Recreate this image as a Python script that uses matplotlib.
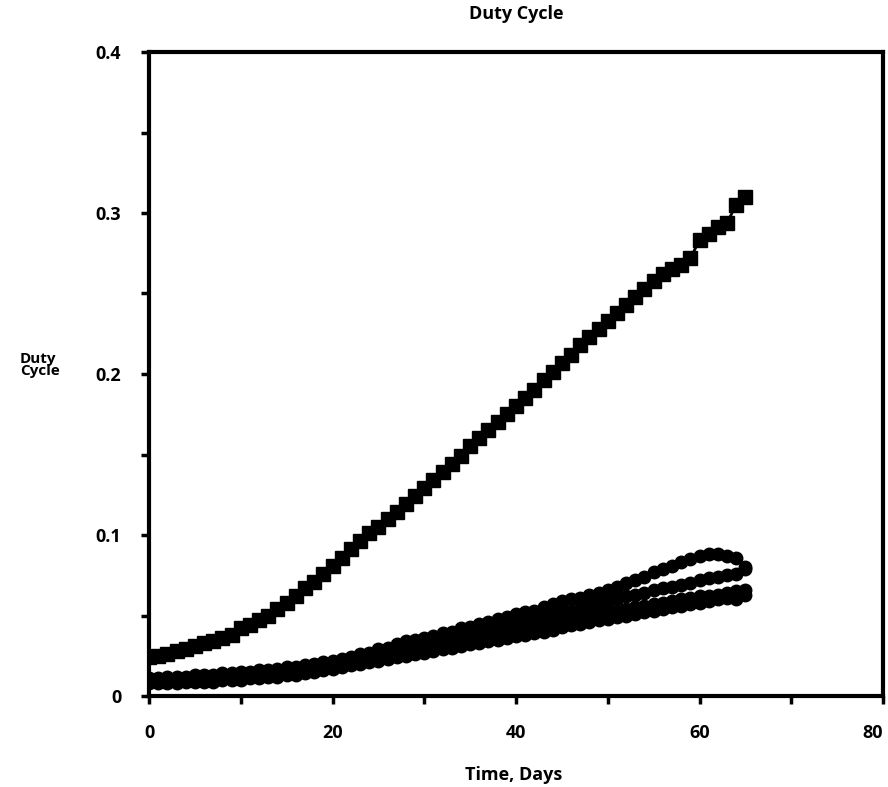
import matplotlib
matplotlib.use("Agg")
import matplotlib.pyplot as plt
from matplotlib.ticker import MultipleLocator

plt.rcParams['font.family'] = ['Open Sans', 'DejaVu Sans']

days = list(range(0, 66))

duty_top = [0.024,0.025,0.026,0.028,0.029,0.031,0.033,0.034,0.036,0.038,
            0.042,0.044,0.047,0.050,0.054,0.058,0.062,0.067,0.071,0.076,
            0.081,0.086,0.091,0.096,0.101,0.105,0.110,0.114,0.119,0.124,
            0.129,0.134,0.139,0.144,0.149,0.155,0.160,0.165,0.170,0.175,
            0.180,0.185,0.190,0.196,0.201,0.207,0.212,0.218,0.223,0.228,
            0.233,0.238,0.243,0.248,0.253,0.258,0.262,0.265,0.268,0.272,
            0.283,0.287,0.291,0.294,0.305,0.310]

duty_a = [0.011,0.011,0.012,0.012,0.012,0.013,0.013,0.013,0.014,0.014,
          0.015,0.015,0.016,0.016,0.017,0.018,0.018,0.019,0.020,0.021,
          0.022,0.023,0.024,0.026,0.027,0.029,0.030,0.032,0.034,0.035,
          0.036,0.037,0.039,0.040,0.042,0.043,0.045,0.046,0.048,0.049,
          0.051,0.052,0.053,0.055,0.057,0.059,0.060,0.061,0.063,0.064,
          0.066,0.068,0.070,0.072,0.074,0.077,0.079,0.081,0.083,0.085,
          0.087,0.088,0.088,0.087,0.086,0.080]

duty_b = [0.010,0.010,0.011,0.011,0.011,0.012,0.012,0.012,0.013,0.013,
          0.013,0.014,0.014,0.015,0.016,0.016,0.017,0.018,0.019,0.020,
          0.021,0.022,0.023,0.024,0.025,0.027,0.028,0.030,0.031,0.032,
          0.033,0.034,0.035,0.037,0.038,0.039,0.040,0.042,0.043,0.044,
          0.045,0.046,0.047,0.049,0.050,0.052,0.053,0.054,0.056,0.057,
          0.059,0.060,0.062,0.063,0.064,0.066,0.067,0.068,0.069,0.070,
          0.072,0.073,0.074,0.075,0.076,0.079]

duty_c = [0.009,0.009,0.009,0.010,0.010,0.010,0.011,0.011,0.011,0.012,
          0.012,0.013,0.013,0.014,0.014,0.015,0.016,0.016,0.017,0.018,
          0.019,0.020,0.021,0.022,0.023,0.024,0.025,0.026,0.027,0.029,
          0.030,0.031,0.032,0.033,0.034,0.035,0.036,0.037,0.038,0.040,
          0.041,0.042,0.043,0.044,0.045,0.047,0.048,0.049,0.050,0.051,
          0.052,0.053,0.054,0.055,0.056,0.057,0.058,0.059,0.060,0.061,
          0.062,0.062,0.063,0.064,0.065,0.066]

duty_d = [0.008,0.008,0.008,0.008,0.009,0.009,0.009,0.009,0.010,0.010,
          0.010,0.011,0.011,0.012,0.012,0.013,0.013,0.014,0.015,0.016,
          0.017,0.018,0.019,0.020,0.021,0.022,0.023,0.024,0.025,0.026,
          0.027,0.028,0.029,0.030,0.031,0.032,0.033,0.034,0.035,0.036,
          0.037,0.038,0.039,0.040,0.041,0.043,0.044,0.045,0.046,0.047,
          0.048,0.049,0.050,0.051,0.052,0.053,0.054,0.055,0.056,0.057,
          0.058,0.059,0.060,0.061,0.060,0.063]

x_ticks = [0, 20, 40, 60, 80]
x_labels = ["0", "20", "40", "60", "80"]
y_ticks = [0, 0.1, 0.2, 0.3, 0.4]
y_labels = ["0", "0.1", "0.2", "0.3", "0.4"]

fig = plt.figure(figsize=(8.88, 7.87), dpi=100)
ax = fig.add_axes([149/888, 1-696/787, (883-149)/888, (696-52)/787])

ax.plot(days, duty_top, color='black', lw=2, marker='s', ms=10, mec='black', mfc='black')
for s in (duty_a, duty_b, duty_c, duty_d):
    ax.plot(days, s, color='black', lw=2, marker='o', ms=9, mec='black', mfc='black')

ax.set_xlim(0, 80)
ax.set_ylim(0, 0.4)

ax.set_xticks(x_ticks)
ax.set_xticklabels(x_labels)
ax.set_yticks(y_ticks)
ax.set_yticklabels(y_labels)
ax.xaxis.set_minor_locator(MultipleLocator(10))
ax.yaxis.set_minor_locator(MultipleLocator(0.05))

for sp in ax.spines.values():
    sp.set_linewidth(3)
ax.tick_params(which='both', direction='out', length=6, width=2.5, color='black')
ax.tick_params(axis='y', which='major', pad=14, labelsize=13)
ax.tick_params(axis='x', which='major', pad=14, labelsize=13)
for lab in ax.get_xticklabels() + ax.get_yticklabels():
    lab.set_fontweight('bold')
ax.get_xticklabels()[-1].set_horizontalalignment('right')

fig.text(516/888, 1-14/787, "Duty Cycle", ha='center', va='center', fontsize=13, fontweight='bold')
fig.text(514/888, 1-775/787, "Time, Days", ha='center', va='center', fontsize=13, fontweight='bold')
fig.text(20/888, 1-365/787, "Duty\nCycle", ha='left', va='center', fontsize=11, fontweight='bold', linespacing=0.85)

fig.savefig("out.png", dpi=100)
